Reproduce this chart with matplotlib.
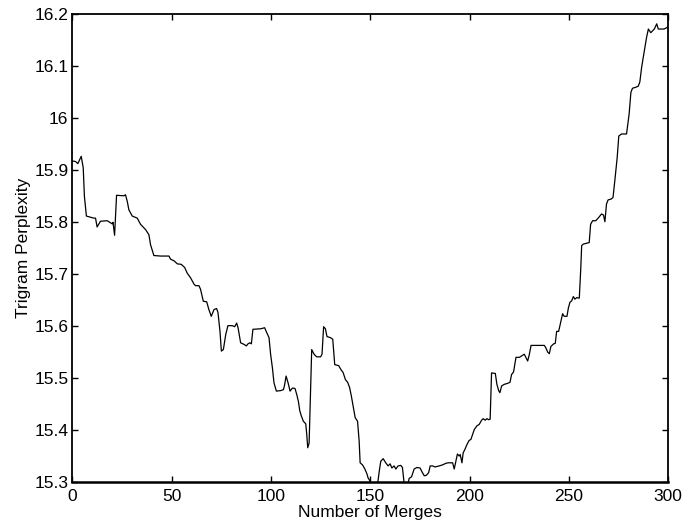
import matplotlib
matplotlib.use("Agg")
import matplotlib.pyplot as plt

merges = [0, 1.5, 2.7, 4.4, 5.4, 6.0, 7.0, 10.7, 11.6, 12.4, 14.1, 17.5, 19.2, 20.0, 20.4, 21.2,
          22.2, 25.9, 26.7, 27.6, 28.4, 30.1, 32.6, 34.3, 36.8, 38.5, 39.3, 41.0, 44.4, 48.6,
          49.4, 51.1, 52.8, 54.8, 56.5, 57.8, 59.5, 61.2, 62.0, 63.7, 64.5, 65.9, 67.6, 68.7,
          69.9, 71.3, 72.6, 73.3, 74.3, 75.0, 76.0, 77.2, 78.3, 80.5, 81.7, 82.7, 83.4, 84.7,
          86.4, 87.6, 88.4, 89.3, 90.1, 90.9, 94.8, 96.8, 97.8, 99.0, 99.8, 100.7, 101.5, 102.7,
          104.9, 106.3, 106.9, 107.6, 108.6, 109.6, 110.8, 112.1, 113.0, 113.8, 114.5, 115.3,
          116.3, 117.5, 118.0, 118.5, 119.2, 120.5, 121.7, 123.0, 125.0, 125.7, 126.5, 127.4,
          128.2, 129.9, 131.1, 132.1, 134.1, 135.3, 136.3, 137.5, 138.6, 139.6, 140.5, 141.5,
          142.4, 143.6, 144.4, 144.9, 146.1, 147.3, 148.3, 148.9, 149.9, 150.5, 153.5, 154.5,
          155.3, 156.5, 157.8, 159.0, 160.0, 160.9, 162.0, 162.9, 164.0, 165.4, 166.2, 167.0,
          167.5, 168.6, 169.6, 170.8, 172.1, 173.5, 175.1, 176.0, 177.2, 178.3, 179.4, 180.2,
          181.4, 182.6, 184.7, 186.4, 188.1, 189.2, 191.5, 192.3, 193.1, 193.9, 194.8, 195.3,
          196.2, 196.8, 197.7, 198.7, 199.8, 200.7, 201.5, 202.4, 203.7, 204.9, 206.1, 206.9,
          207.9, 208.8, 209.6, 210.4, 211.1, 213.0, 213.8, 214.7, 215.3, 216.2, 217.5, 219.2,
          220.4, 221.2, 222.2, 223.4, 225.1, 226.3, 227.6, 228.4, 229.3, 230.1, 231.0, 237.7,
          238.5, 239.4, 240.2, 241.0, 242.4, 243.2, 243.9, 244.9, 246.1, 246.9, 247.7, 249.1,
          249.8, 250.6, 251.5, 252.3, 253.1, 254.0, 255.3, 256.0, 256.5, 257.3, 260.3, 261.0,
          262.0, 263.6, 264.8, 266.5, 267.5, 268.2, 269.0, 269.8, 271.5, 272.3, 273.2, 274.4,
          275.2, 276.6, 279.1, 280.4, 281.3, 282.1, 283.8, 285.0, 285.8, 286.7, 287.5, 288.4,
          289.2, 290.1, 291.3, 292.3, 293.1, 294.3, 295.1, 296.4, 298.0, 300.0]

perplexity = [15.918, 15.917, 15.913, 15.927, 15.905, 15.850, 15.812, 15.808, 15.808, 15.791,
              15.802, 15.803, 15.799, 15.797, 15.800, 15.775, 15.852, 15.851, 15.853, 15.840,
              15.824, 15.812, 15.808, 15.796, 15.786, 15.776, 15.757, 15.736, 15.735, 15.735,
              15.729, 15.726, 15.720, 15.719, 15.713, 15.702, 15.693, 15.681, 15.678, 15.678,
              15.671, 15.648, 15.647, 15.632, 15.619, 15.632, 15.634, 15.626, 15.590, 15.552,
              15.555, 15.584, 15.601, 15.601, 15.599, 15.606, 15.597, 15.568, 15.565, 15.562,
              15.566, 15.568, 15.566, 15.594, 15.595, 15.597, 15.588, 15.578, 15.546, 15.520,
              15.491, 15.475, 15.476, 15.478, 15.488, 15.504, 15.491, 15.475, 15.481, 15.480,
              15.468, 15.455, 15.437, 15.427, 15.417, 15.412, 15.392, 15.366, 15.375, 15.555,
              15.546, 15.541, 15.541, 15.546, 15.599, 15.595, 15.580, 15.578, 15.575, 15.526,
              15.524, 15.516, 15.511, 15.497, 15.492, 15.482, 15.465, 15.443, 15.424, 15.417,
              15.379, 15.337, 15.333, 15.325, 15.316, 15.308, 15.302, 15.290, 15.290, 15.320,
              15.340, 15.345, 15.337, 15.331, 15.335, 15.327, 15.331, 15.325, 15.331, 15.332,
              15.328, 15.300, 15.290, 15.290, 15.307, 15.310, 15.325, 15.328, 15.327, 15.320,
              15.312, 15.313, 15.318, 15.331, 15.331, 15.329, 15.331, 15.333, 15.336, 15.337,
              15.337, 15.325, 15.340, 15.354, 15.350, 15.353, 15.337, 15.356, 15.363, 15.372,
              15.380, 15.382, 15.391, 15.401, 15.408, 15.411, 15.419, 15.422, 15.419, 15.422,
              15.420, 15.421, 15.510, 15.509, 15.488, 15.476, 15.472, 15.485, 15.488, 15.490,
              15.492, 15.507, 15.512, 15.540, 15.540, 15.543, 15.546, 15.540, 15.533, 15.545,
              15.563, 15.563, 15.558, 15.550, 15.547, 15.561, 15.566, 15.567, 15.590, 15.590,
              15.610, 15.624, 15.619, 15.619, 15.635, 15.646, 15.649, 15.657, 15.652, 15.655,
              15.654, 15.707, 15.755, 15.758, 15.761, 15.796, 15.803, 15.803, 15.808, 15.816,
              15.814, 15.801, 15.835, 15.843, 15.845, 15.848, 15.880, 15.925, 15.966, 15.970,
              15.970, 16.008, 16.050, 16.058, 16.060, 16.062, 16.070, 16.098, 16.117, 16.137,
              16.156, 16.172, 16.165, 16.169, 16.172, 16.182, 16.172, 16.172, 16.172, 16.176]

x_ticks = [0, 50, 100, 150, 200, 250, 300]
y_ticks = [15.3, 15.4, 15.5, 15.6, 15.7, 15.8, 15.9, 16.0, 16.1, 16.2]
y_tick_labels = ["15.3", "15.4", "15.5", "15.6", "15.7", "15.8", "15.9", "16", "16.1", "16.2"]

plt.rcParams['font.family'] = ['Liberation Sans', 'DejaVu Sans']

fig = plt.figure(figsize=(6.82, 5.29), dpi=100)
ax = fig.add_axes([0.1063, 0.0888, 0.8732, 0.8838])
ax.plot(merges, perplexity, color='black', linewidth=0.9)
ax.set_xlim(0, 300)
ax.set_ylim(15.3, 16.2)
ax.set_xticks(x_ticks)
ax.set_xticklabels([str(t) for t in x_ticks])
ax.set_yticks(y_ticks)
ax.set_yticklabels(y_tick_labels)
ax.tick_params(direction='in', top=True, right=True, length=4.5, width=1,
               labelsize=12.5)
ax.tick_params(axis='x', pad=5)
ax.tick_params(axis='y', pad=3)
for s in ax.spines.values():
    s.set_linewidth(1.3)
ax.spines['bottom'].set_linewidth(1.8)
ax.set_xlabel("Number of Merges", fontsize=12.5, labelpad=1)
ax.set_ylabel("Trigram Perplexity", fontsize=12.5, labelpad=2)

fig.savefig("out.png", dpi=100)
